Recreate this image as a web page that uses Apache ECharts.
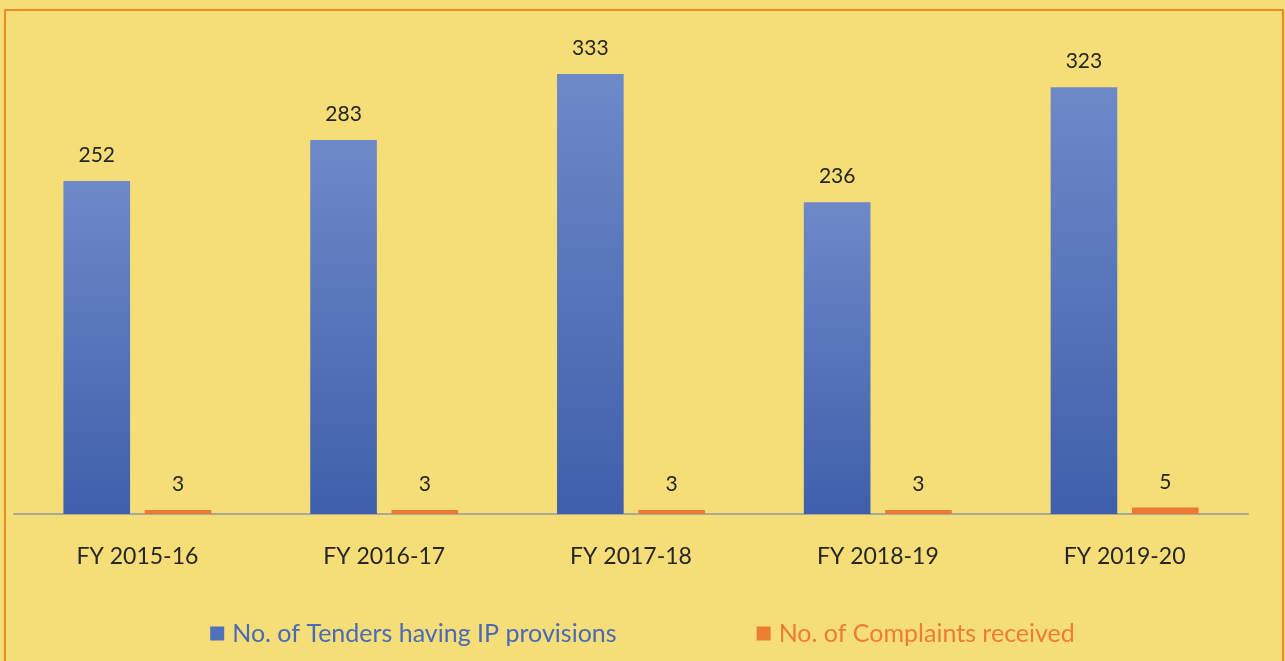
<!DOCTYPE html>
<html><head><meta charset="utf-8">
<script src="https://cdn.jsdelivr.net/npm/echarts@6/dist/echarts.min.js"></script>
<style>html,body{margin:0;padding:0;background:#f5dd78;}#c{width:1285px;height:661px;}</style>
</head><body><div id="c"></div>
<script>
const categories = ['FY 2015-16','FY 2016-17','FY 2017-18','FY 2018-19','FY 2019-20'];
const tenders = [252, 283, 333, 236, 323];
const complaints = [3, 3, 3, 3, 5];
const seriesNames = ['No. of Tenders having IP provisions','No. of Complaints received'];

const chart = echarts.init(document.getElementById('c'), null, {renderer:'canvas'});
const font = 'Lato, "Noto Sans", sans-serif';
chart.setOption({
  backgroundColor: '#f5dd78',
  textStyle: {fontFamily: font},
  graphic: [{type:'rect', shape:{x:5, y:10, width:1278, height:660}, style:{fill:'none', stroke:'#f08a24', lineWidth:2}, silent:true, z:-1}],
  grid: {left:14, right:37, top:51.5, bottom:147, containLabel:false},
  legend: {
    bottom: 10, left: 'center', itemGap: 140, itemWidth: 14, itemHeight: 14, icon: 'rect',
    textStyle: {fontSize: 25, fontFamily: font, padding:[0,0,0,3]},
    data: [
      {name: seriesNames[0], itemStyle:{color:'#5170ba'}, textStyle:{color:'#4a69b6', padding:[0,0,0,3]}},
      {name: seriesNames[1], itemStyle:{color:'#ed7d31'}, textStyle:{color:'#ee7d33', padding:[0,0,0,3]}}
    ]
  },
  xAxis: {
    type:'category', data: categories,
    axisLine:{lineStyle:{color:'#aca896', width:2}},
    axisTick:{show:false},
    axisLabel:{color:'#262626', fontSize:23, margin:31, fontFamily:font}
  },
  yAxis: {type:'value', min:0, max:350, show:false, splitLine:{show:false}},
  series: [
    {name: seriesNames[0], type:'bar', data: tenders, barWidth:'27%', barGap:'22%',
     itemStyle:{color: new echarts.graphic.LinearGradient(0,0,0,1,[{offset:0,color:'#6d89c8'},{offset:1,color:'#3f5fab'}])},
     label:{show:true, position:'top', distance:15, color:'#262626', fontSize:21, fontFamily:font}},
    {name: seriesNames[1], type:'bar', data: complaints, barWidth:'27%',
     itemStyle:{color:'#ec7a36'},
     label:{show:true, position:'top', distance:15, color:'#262626', fontSize:21, fontFamily:font}}
  ]
});
</script></body></html>
